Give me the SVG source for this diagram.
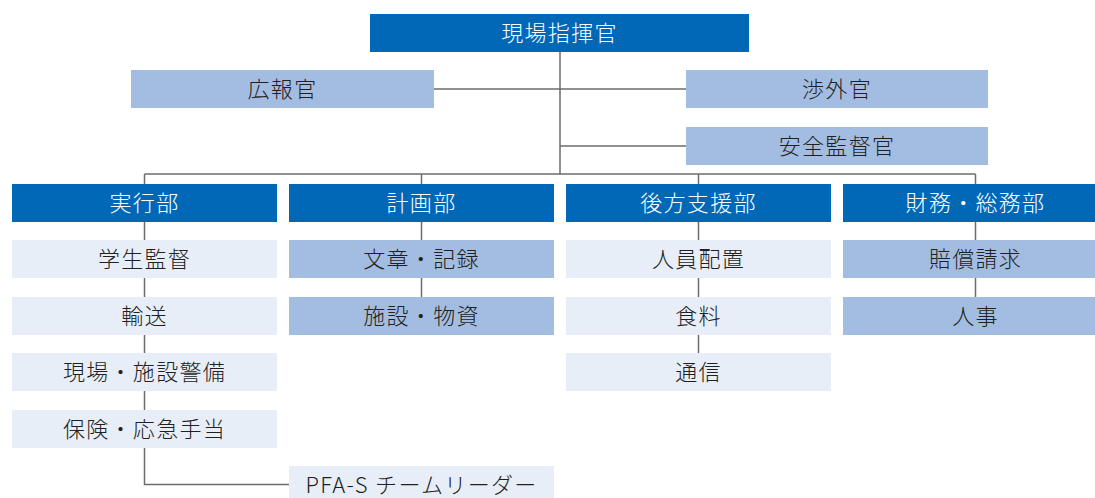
<svg xmlns="http://www.w3.org/2000/svg" width="1095" height="498" viewBox="0 0 1095 498">
<style>
.d{fill:#0068b7}
.m{fill:#a3bde2}
.l{fill:#e8eef8}
text{font-family:"Noto Sans CJK JP","Noto Sans",sans-serif;font-size:22px;text-anchor:middle;letter-spacing:1.3px;font-weight:300}
.w{fill:#ffffff}
.k{fill:#231f20}
.c{fill:none;stroke:#6f6b6b;stroke-width:1.5}
</style>
<g id="connectors">
<path class="c" d="M560 52V174M434 89H686M560 146H686M144.5 174H975.5M144.5 174V184M421.5 174V184M698.5 174V184M975.5 174V184"/>
<path class="c" d="M144.5 222V484.5H289"/>
<path class="c" d="M421.5 222V297"/>
<path class="c" d="M698.5 222V353"/>
<path class="c" d="M975.5 222V297"/>
</g>
<g id="commander"><rect class="d" x="370" y="14" width="379" height="38"/><text class="w" x="559.5" y="40.5">現場指揮官</text></g>
<g id="pr"><rect class="m" x="131" y="70" width="303" height="38"/><text class="k" x="282.5" y="96.5">広報官</text></g>
<g id="liaison"><rect class="m" x="686" y="70" width="302" height="38"/><text class="k" x="837" y="96.5">渉外官</text></g>
<g id="safety"><rect class="m" x="686" y="127" width="302" height="38"/><text class="k" x="837" y="153.5">安全監督官</text></g>
<g id="ops"><rect class="d" x="12" y="184" width="265" height="38"/><text class="w" x="144.5" y="210.5">実行部</text></g>
<g id="ops1"><rect class="l" x="12" y="240" width="265" height="38"/><text class="k" x="144.5" y="266.5">学生監督</text></g>
<g id="ops2"><rect class="l" x="12" y="297" width="265" height="38"/><text class="k" x="144.5" y="323.5">輸送</text></g>
<g id="ops3"><rect class="l" x="12" y="353" width="265" height="38"/><text class="k" x="144.5" y="379.5">現場・施設警備</text></g>
<g id="ops4"><rect class="l" x="12" y="410" width="265" height="38"/><text class="k" x="144.5" y="436.5">保険・応急手当</text></g>
<g id="pfa"><rect class="l" x="289" y="466" width="265" height="38"/><text class="k" x="421.5" y="492.5">PFA-S チームリーダー</text></g>
<g id="plan"><rect class="d" x="289" y="184" width="265" height="38"/><text class="w" x="421.5" y="210.5">計画部</text></g>
<g id="plan1"><rect class="m" x="289" y="240" width="265" height="38"/><text class="k" x="421.5" y="266.5">文章・記録</text></g>
<g id="plan2"><rect class="m" x="289" y="297" width="265" height="38"/><text class="k" x="421.5" y="323.5">施設・物資</text></g>
<g id="log"><rect class="d" x="566" y="184" width="265" height="38"/><text class="w" x="698.5" y="210.5">後方支援部</text></g>
<g id="log1"><rect class="l" x="566" y="240" width="265" height="38"/><text class="k" x="698.5" y="266.5">人員配置</text></g>
<g id="log2"><rect class="l" x="566" y="297" width="265" height="38"/><text class="k" x="698.5" y="323.5">食料</text></g>
<g id="log3"><rect class="l" x="566" y="353" width="265" height="38"/><text class="k" x="698.5" y="379.5">通信</text></g>
<g id="fin"><rect class="d" x="843" y="184" width="265" height="38"/><text class="w" x="975.5" y="210.5">財務・総務部</text></g>
<g id="fin1"><rect class="m" x="843" y="240" width="265" height="38"/><text class="k" x="975.5" y="266.5">賠償請求</text></g>
<g id="fin2"><rect class="m" x="843" y="297" width="265" height="38"/><text class="k" x="975.5" y="323.5">人事</text></g>
</svg>
